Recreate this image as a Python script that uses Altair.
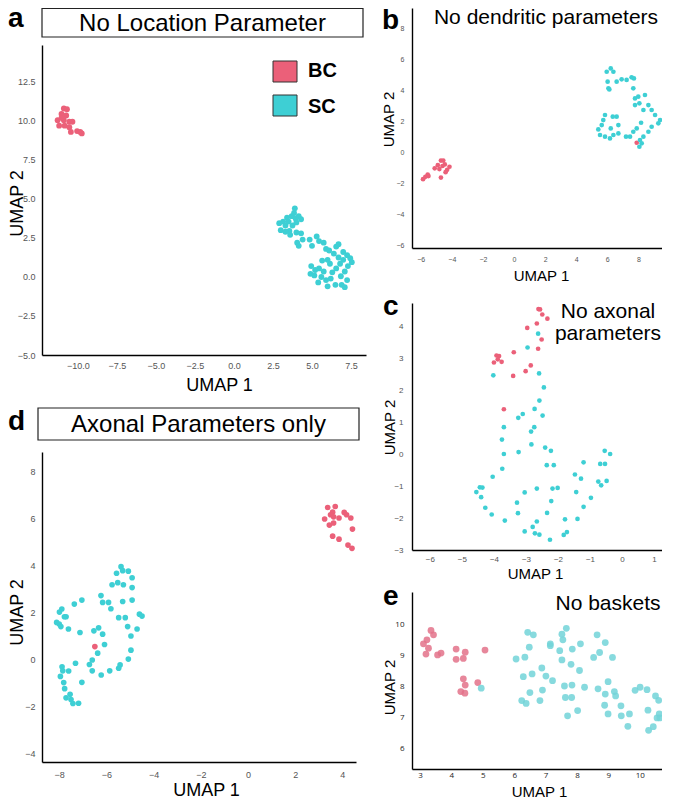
import altair as alt
import pandas as pd

CATS = ["BC", "SC"]
COLORS = ["#EB6079", "#3ECFD4"]
E_COLORS = ["#E3728A", "#72D3D8"]
FONT = "Liberation Sans"

# ---------------- data (UMAP coordinates) ----------------
a_bc = [(-10.9, 10.8), (-10.7, 10.75), (-11.05, 10.45), (-10.75, 10.35), (-11.3, 10.05), (-10.9, 10.05),
        (-10.55, 9.95), (-10.35, 9.95), (-11.2, 9.7), (-10.85, 9.7), (-10.55, 9.6), (-10.45, 9.3),
        (-10.05, 9.35), (-9.85, 9.3), (-9.75, 9.2), (-11.05, 10.2)]
a_sc = [(2.9, 3.45), (3.0, 3.0), (3.15, 3.55), (3.3, 3.3), (3.4, 3.8), (3.5, 3.55), (3.55, 2.95), (3.7, 3.9),
        (3.75, 3.3), (3.85, 4.1), (3.9, 4.4), (3.95, 3.75), (4.0, 3.5), (4.15, 3.9), (4.3, 3.7), (3.3, 2.9),
        (3.6, 2.7), (4.0, 2.85), (4.3, 2.8), (4.05, 2.2), (4.15, 2.0), (4.4, 2.4), (4.85, 2.4), (5.3, 2.6),
        (5.0, 2.0), (5.45, 2.3), (5.75, 2.2), (5.9, 1.8), (6.1, 1.7), (6.55, 1.95), (6.4, 1.5), (6.7, 2.1),
        (7.0, 1.6), (7.25, 1.4), (7.45, 1.2), (7.0, 1.1), (6.8, 0.85), (7.3, 0.7), (7.55, 0.95), (7.1, 0.35),
        (6.85, 0.05), (7.25, -0.2), (6.9, -0.5), (6.5, -0.5), (6.2, -0.1), (4.95, 0.7), (5.2, 0.45), (4.9, 0.2),
        (5.15, 0.1), (5.45, 0.55), (5.75, 0.35), (5.6, 0.0), (5.9, -0.2), (5.4, -0.35), (6.0, -0.6), (6.3, 0.3),
        (6.55, 0.55), (6.15, 0.85), (5.65, 1.05), (6.0, 1.1), (6.7, 1.25), (7.1, -0.65)]

b_bc = [(-5.85, -1.75), (-5.7, -1.6), (-5.55, -1.45), (-5.5, -1.55), (-5.1, -1.05), (-4.9, -0.85),
        (-4.7, -0.55), (-4.55, -0.55), (-4.45, -0.8), (-4.3, -1.15), (-4.15, -0.95), (-4.4, -1.3),
        (-4.7, -1.65), (-4.8, -1.1), (-4.6, -0.9), (7.89, 0.6)]
b_sc = [(5.96, 5.18), (6.22, 5.39), (6.39, 5.18), (6.6, 4.54), (6.02, 4.54), (6.07, 4.11), (6.13, 4.04),
        (6.92, 4.69), (7.24, 4.65), (7.56, 4.82), (7.71, 4.75), (7.67, 4.11), (7.78, 3.46), (7.99, 3.57),
        (8.42, 3.68), (7.78, 3.03), (8.06, 3.14), (8.32, 2.71), (8.64, 3.03), (8.85, 2.71), (9.07, 2.39),
        (9.39, 2.06), (9.28, 1.85), (8.85, 1.63), (8.64, 1.31), (8.32, 0.99), (8.1, 0.77), (8.06, 0.34),
        (8.21, 0.56), (7.67, 1.31), (7.46, 0.99), (7.2, 0.99), (6.71, 1.2), (6.17, 0.88), (5.85, 0.99),
        (5.53, 1.1), (5.42, 1.46), (5.64, 1.74), (5.74, 2.06), (5.85, 2.39), (6.35, 2.28), (6.6, 2.28),
        (6.71, 1.74), (6.22, 1.52), (6.39, 1.1), (8.17, 1.89), (7.89, 1.52)]

c_bc = [(-2.61, 4.53), (-2.56, 4.52), (-2.49, 4.36), (-2.33, 4.23), (-2.66, 4.08), (-2.96, 3.94),
        (-2.51, 3.58), (-2.62, 3.29), (-3.38, 3.18), (-3.92, 3.08), (-3.84, 3.06), (-3.88, 2.96),
        (-3.76, 2.88), (-4.0, 2.86), (-2.85, 2.77), (-3.01, 2.59), (-3.4, 2.44), (-3.69, 1.4)]
c_sc = [(-2.62, 3.76), (-2.95, 3.33), (-2.59, 2.52), (-4.02, 2.46), (-2.44, 2.08), (-2.58, 1.67),
        (-2.73, 1.41), (-3.1, 1.25), (-3.24, 1.13), (-2.48, 1.2), (-3.69, 0.84), (-2.74, 0.84),
        (-3.75, 0.45), (-2.84, 0.7), (-2.83, 0.3), (-2.4, 0.2), (-2.22, 0.1), (-3.23, 0.06), (-3.69, 0.0),
        (-2.35, -0.35), (-2.13, -0.35), (-3.74, -0.46), (-4.04, -0.71), (-4.44, -1.04), (-4.36, -1.05),
        (-4.55, -1.19), (-4.4, -1.35), (-4.27, -1.68), (-4.07, -1.89), (-3.66, -2.08), (-3.04, -1.2),
        (-3.28, -1.52), (-3.25, -1.85), (-2.66, -1.08), (-2.17, -1.08), (-2.01, -1.06), (-2.21, -1.47),
        (-2.34, -1.84), (-2.66, -2.11), (-2.79, -2.28), (-2.72, -2.48), (-2.58, -2.52), (-3.04, -2.42),
        (-2.25, -2.68), (-1.78, -2.04), (-1.82, -2.53), (-1.72, -2.44), (-1.39, -2.03), (-1.47, -0.64),
        (-1.28, -0.77), (-1.43, -1.19), (-1.2, -1.65), (-0.97, -1.37), (-1.2, -0.26), (-0.74, -0.86),
        (-0.65, -0.98), (-0.48, -0.84), (-0.68, -0.31), (-0.53, -0.31), (-0.54, 0.1), (-0.37, 0.0)]

d_bc = [(-6.49, 0.53), (3.38, 6.45), (3.7, 6.49), (3.59, 6.25), (3.5, 6.14), (3.25, 5.96), (3.63, 6.05),
        (3.86, 6.0), (4.08, 6.24), (4.18, 6.14), (4.36, 6.0), (3.45, 5.7), (3.63, 5.79), (4.43, 5.53),
        (3.59, 5.23), (3.86, 5.1), (4.24, 4.85), (4.41, 4.71)]
d_sc = [(-5.38, 3.93), (-5.57, 3.65), (-5.31, 3.76), (-5.07, 3.74), (-4.91, 3.46), (-4.91, 3.04),
        (-5.28, 3.16), (-5.52, 3.25), (-5.76, 3.16), (-6.23, 2.7), (-6.16, 2.41), (-5.91, 2.41),
        (-5.81, 2.14), (-5.31, 2.45), (-4.91, 2.51), (-5.48, 1.76), (-5.2, 1.76), (-4.6, 1.91),
        (-4.49, 1.83), (-4.7, 1.28), (-5.1, 1.38), (-4.96, 0.98), (-4.96, 0.38), (-5.07, 0.0),
        (-5.42, -0.25), (-5.48, -0.39), (-5.86, -0.5), (-6.22, -0.68), (-6.6, -0.5), (-6.72, -0.23),
        (-6.6, -0.04), (-6.37, 0.25), (-6.08, 0.62), (-6.16, 1.06), (-6.33, 1.33), (-6.53, 1.2),
        (-7.04, 2.51), (-7.36, 2.34), (-7.99, 2.0), (-7.89, 2.13), (-7.78, 1.8), (-7.71, 1.8),
        (-8.11, 1.56), (-8.0, 1.49), (-7.93, 1.38), (-7.61, 1.28), (-7.12, 1.13), (-7.31, -0.18),
        (-7.6, -0.51), (-7.88, -0.33), (-7.85, -0.5), (-7.95, -0.74), (-7.81, -1.0), (-7.77, -1.26),
        (-7.71, -1.65), (-7.54, -1.5), (-7.5, -1.72), (-7.42, -1.89), (-7.18, -1.88), (-7.04, -0.99)]

e_bc = [(3.35, 9.82), (3.43, 9.68), (3.22, 9.52), (3.11, 9.39), (3.27, 9.25), (3.19, 9.06), (3.56, 9.03),
        (3.67, 9.09), (4.15, 9.22), (4.44, 9.12), (4.15, 8.89), (4.38, 8.92), (5.07, 9.19), (4.38, 8.26),
        (4.44, 8.06), (4.84, 8.14), (4.3, 7.85), (4.43, 7.8)]
e_sc = [(4.95, 7.96), (6.06, 8.9), (6.34, 8.96), (6.43, 9.76), (6.61, 9.68), (6.48, 9.28), (6.29, 8.33),
        (6.57, 8.42), (6.5, 7.82), (6.24, 7.56), (6.38, 7.47), (6.88, 8.61), (7.01, 8.35), (7.22, 8.2),
        (6.9, 7.9), (6.82, 7.56), (7.15, 9.39), (7.15, 9.33), (7.52, 9.7), (7.55, 9.52), (7.66, 9.89),
        (7.45, 9.17), (7.52, 8.87), (7.85, 9.22), (7.81, 8.73), (8.11, 9.39), (8.08, 8.53), (7.6, 8.03),
        (7.84, 8.06), (7.63, 7.66), (7.83, 7.66), (7.7, 7.07), (8.02, 7.24), (8.24, 7.99), (8.64, 9.68),
        (8.9, 9.43), (8.72, 9.11), (8.53, 8.95), (9.13, 8.95), (8.67, 7.94), (8.99, 8.17), (8.9, 7.77),
        (9.19, 7.85), (9.23, 7.71), (8.88, 7.41), (8.99, 7.13), (9.4, 7.39), (9.41, 7.07), (9.67, 7.13),
        (9.62, 6.73), (9.85, 7.89), (10.01, 7.99), (10.23, 7.91), (10.26, 7.25), (10.28, 6.6),
        (10.43, 6.72), (10.5, 7.71), (10.6, 7.57), (10.62, 7.13), (10.55, 7.0), (10.64, 7.0)]

a_xticks = [-10.0, -7.5, -5.0, -2.5, 0.0, 2.5, 5.0, 7.5]
a_yticks = [-5.0, -2.5, 0.0, 2.5, 5.0, 7.5, 10.0, 12.5]
b_xticks = [-6, -4, -2, 0, 2, 4, 6, 8, 10]
b_yticks = [-6, -4, -2, 0, 2, 4, 6, 8]
c_xticks = [-6, -5, -4, -3, -2, -1, 0, 1]
c_yticks = [-3, -2, -1, 0, 1, 2, 3, 4]
d_xticks = [-8, -6, -4, -2, 0, 2, 4]
d_yticks = [-4, -2, 0, 2, 4, 6, 8]
e_xticks = [3, 4, 5, 6, 7, 8, 9, 10]
e_yticks = [6, 7, 8, 9, 10]

ONE = alt.Data(values=[{"k": 1}])


def frame(x1, x2, y1, y2):
    # invisible rectangle that fixes the extent of a panel in the grid layout
    return alt.Chart(ONE).mark_rect(opacity=0).encode(
        x=alt.value(x1), x2=alt.value(x2), y=alt.value(y1), y2=alt.value(y2))


def box(x1, x2, y1, y2, fill="white", stroke="#222222", sw=1.2):
    return alt.Chart(ONE).mark_rect(fill=fill, stroke=stroke, strokeWidth=sw).encode(
        x=alt.value(x1), x2=alt.value(x2), y=alt.value(y1), y2=alt.value(y2))


def txt(x, y, s, size, weight="normal", align="left", line_height=None):
    kw = dict(text=s, fontSize=size, fontWeight=weight, align=align, baseline="alphabetic",
              font=FONT, color="black")
    if line_height:
        kw["lineHeight"] = line_height
    return alt.Chart(ONE).mark_text(**kw).encode(x=alt.value(x), y=alt.value(y))


def scatter(bc, sc, xdom, ydom, xt, yt, fmt, lab_size, xpad, ypad, tsize, xtx, xty, ytx, yty,
            size, colors=COLORS, opacity=1.0, lab_font=FONT, lab_color="#555555"):
    df = pd.DataFrame({
        "x": [p[0] for p in bc] + [p[0] for p in sc],
        "y": [p[1] for p in bc] + [p[1] for p in sc],
        "cell": ["BC"] * len(bc) + ["SC"] * len(sc),
    })
    common = dict(ticks=False, tickSize=0, grid=False, domainColor="black", domainWidth=1.4,
                  labelFont=lab_font, labelColor=lab_color, labelFontSize=lab_size,
                  labelFlush=False, labelOverlap=False, format=fmt,
                  titleFont=FONT, titleFontWeight="normal", titleColor="black",
                  titleFontSize=tsize, titleBaseline="alphabetic", titleAlign="center")
    return alt.Chart(df).mark_circle(size=size, opacity=opacity).encode(
        x=alt.X("x:Q", scale=alt.Scale(domain=xdom, nice=False, zero=False),
                axis=alt.Axis(values=xt, title="UMAP 1", labelPadding=xpad,
                              titleX=xtx, titleY=xty, **common)),
        y=alt.Y("y:Q", scale=alt.Scale(domain=ydom, nice=False, zero=False),
                axis=alt.Axis(values=yt, title="UMAP 2", labelPadding=ypad,
                              titleX=ytx, titleY=yty, titleAngle=270, **common)),
        color=alt.Color("cell:N", scale=alt.Scale(domain=CATS, range=colors), legend=None),
    )


# ---------------- left column ----------------
a_top = alt.layer(
    frame(-40, 330, -8, 37),
    box(0, 321, 0.5, 29),
    txt(160.5, 23, "No Location Parameter", 24, align="center"),
    txt(-34, 19, "a", 28, weight="bold"),
).properties(width=324, height=37)

a_main = alt.layer(
    frame(-40, 330, 0, 407),
    box(231, 255, 16, 37, fill=COLORS[0], stroke="#333333", sw=1),
    box(231, 255, 50, 71, fill=COLORS[1], stroke="#333333", sw=1),
    txt(266, 32, CATS[0], 20, weight="bold"),
    txt(266, 68, CATS[1], 20, weight="bold"),
    scatter(a_bc, a_sc, [-12.3, 8.46], [-5.0, 14.87], a_xticks, a_yticks, ".1f", 9, 6, 7, 18,
            177, 35, -20, 158, 34),
    box(-4, 317, 363, 395),
    txt(156.5, 387, "Axonal Parameters only", 24, align="center"),
    txt(-34, 385, "d", 28, weight="bold"),
).properties(width=324, height=310)

d_main = alt.layer(
    frame(-40, 330, 0, 345),
    scatter(d_bc, d_sc, [-8.73, 4.58], [-4.38, 8.81], d_xticks, d_yticks, "d", 9, 8, 7, 18,
            164, 33, -20, 160, 32),
).properties(width=314, height=310)

# ---------------- right column ----------------
pb = alt.layer(
    frame(-40, 262, -8, 284),
    txt(134, 16, "No dendritic parameters", 21, align="center"),
    txt(-30, 21, "b", 28, weight="bold"),
    scatter(b_bc, b_sc, [-6.56, 10.03], [-6.19, 9.29], b_xticks, b_yticks, "d", 7, 7, 8, 15,
            129, 32, -19, 111, 22),
).properties(width=258, height=240)

pc = alt.layer(
    frame(-40, 262, -11, 279),
    txt(196, 15, ["No axonal", "parameters"], 21, align="center", line_height=22),
    txt(-29, 12, "c", 28, weight="bold"),
    scatter(c_bc, c_sc, [-6.56, 1.5], [-3.0, 4.72], c_xticks, c_yticks, "d", 8, 5, 9, 15,
            123, 28, -18, 124, 22),
).properties(width=258, height=247)

pe = alt.layer(
    frame(-40, 262, -10, 207),
    txt(196, 18, "No baskets", 21, align="center"),
    txt(-29, 13, "e", 28, weight="bold"),
    scatter(e_bc, e_sc, [2.745, 10.93], [5.355, 11.06], e_xticks, e_yticks, "d", 8, 2, 8, 15,
            127, 27, -18, 95, 46, colors=E_COLORS, opacity=0.85, lab_font="Open Sans",
            lab_color="#222222"),
).properties(width=257, height=177)

left = alt.vconcat(a_top, a_main, d_main, spacing=0, bounds="full").resolve_scale(color="independent")
right = alt.vconcat(pb, pc, pe, spacing=0, bounds="full").resolve_scale(color="independent")

chart = alt.hconcat(left, right, spacing=0, bounds="full").resolve_scale(
    color="independent"
).properties(
    padding={"left": -6, "top": -8, "right": -12, "bottom": 0}
).configure_view(stroke=None)

chart.save("out.html", embed_options={"renderer": "svg", "actions": False})
